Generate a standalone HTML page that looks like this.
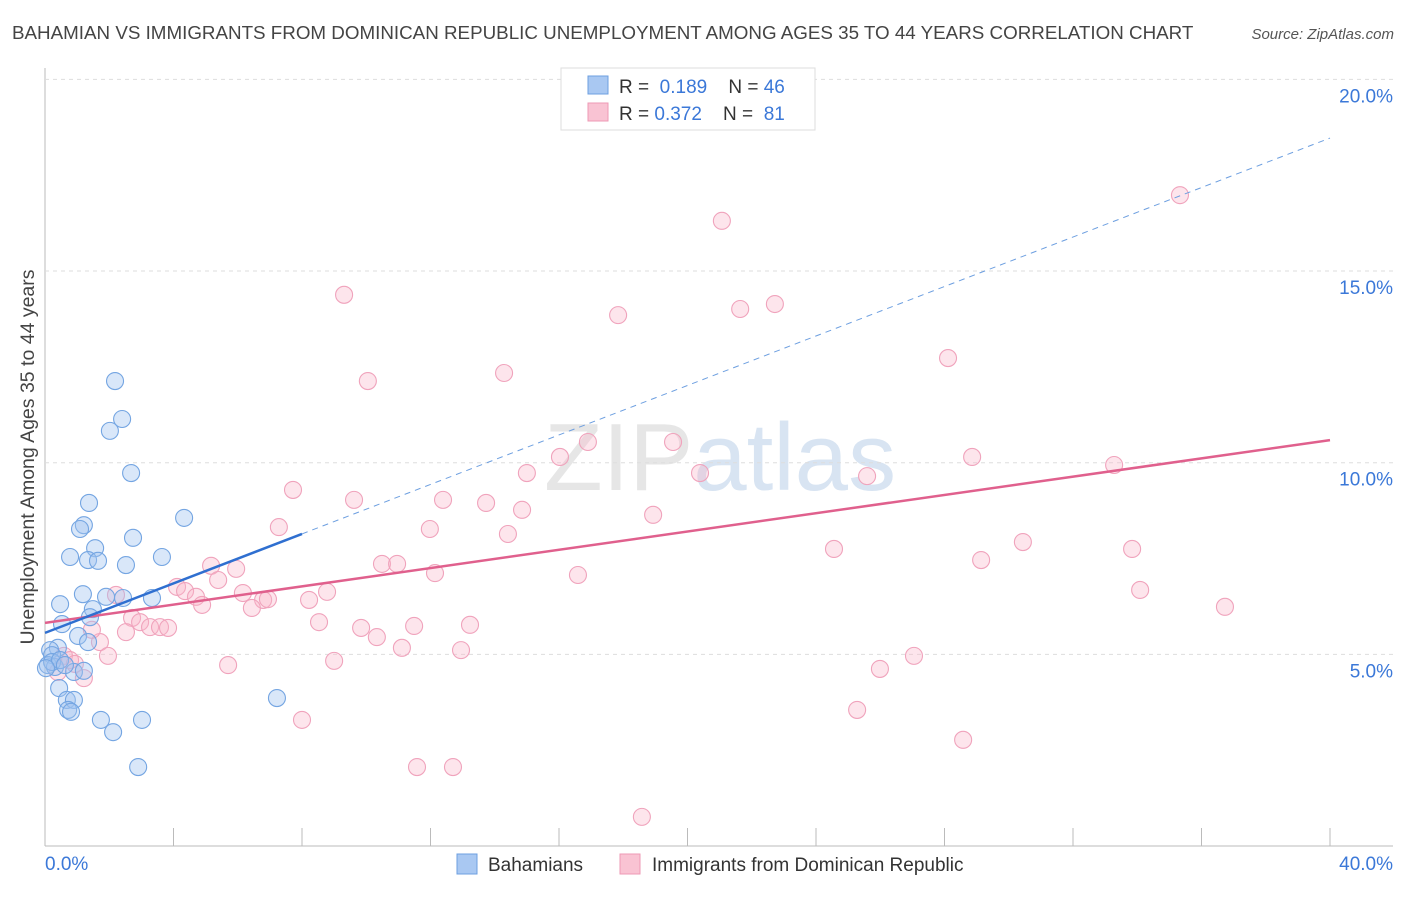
<!DOCTYPE html>
<html><head><meta charset="utf-8"><style>
body{margin:0;background:#fff;font-family:"Liberation Sans",sans-serif;}
svg text{font-family:"Liberation Sans",sans-serif;}
</style></head><body>
<svg id="chart" width="1406" height="892">
<text x="12" y="39" font-size="18.8" fill="#444">BAHAMIAN VS IMMIGRANTS FROM DOMINICAN REPUBLIC UNEMPLOYMENT AMONG AGES 35 TO 44 YEARS CORRELATION CHART</text>
<text x="1394" y="39" font-size="15" fill="#555" text-anchor="end" font-style="italic">Source: ZipAtlas.com</text>
<text x="720" y="490" font-size="96" fill="#e6e6e6" text-anchor="middle" font-family="Liberation Serif">ZIP<tspan fill="#d8e4f2" font-family="Liberation Sans">atlas</tspan></text>
<text transform="translate(34,457) rotate(-90)" font-size="19.5" fill="#444" text-anchor="middle">Unemployment Among Ages 35 to 44 years</text>
<g id="grid"></g><g id="marks"></g>
<g>
<rect x="561" y="68" width="254" height="62" fill="#fff" stroke="#ddd"/>
<rect x="588" y="76" width="20" height="18" fill="#a9c8f2" stroke="#6d9fe0"/>
<rect x="588" y="103" width="20" height="18" fill="#f9c3d3" stroke="#ee9ab5"/>
<text x="619" y="93" font-size="19" fill="#333">R = <tspan fill="#3b78d8">&#160;0.189</tspan>&#160;&#160;&#160; N = <tspan fill="#3b78d8">46</tspan></text>
<text x="619" y="120" font-size="19" fill="#333">R = <tspan fill="#3b78d8">0.372</tspan>&#160;&#160;&#160; N = <tspan fill="#3b78d8">&#160;81</tspan></text>
</g>
<g>
<rect x="457" y="854" width="20" height="20" fill="#a9c8f2" stroke="#6d9fe0"/>
<text x="488" y="871" font-size="19" fill="#333">Bahamians</text>
<rect x="620" y="854" width="20" height="20" fill="#f9c3d3" stroke="#ee9ab5"/>
<text x="652" y="871" font-size="19" fill="#333">Immigrants from Dominican Republic</text>
</g>
</svg>
<script>
const blueX=[2.18,2.40,2.02,2.68,1.37,1.21,1.09,4.33,2.74,1.56,0.78,1.34,1.65,3.64,2.52,0.47,1.18,1.90,2.43,3.33,1.49,1.40,0.53,1.03,1.34,0.40,0.16,0.22,0.09,0.31,0.90,1.21,0.44,0.68,0.90,0.72,0.81,1.74,2.12,3.02,2.90,7.22,0.22,0.47,0.03,0.62];
const blueY=[12.13,11.14,10.83,9.73,8.95,8.37,8.27,8.56,8.04,7.77,7.54,7.46,7.44,7.54,7.33,6.31,6.57,6.50,6.47,6.47,6.18,5.97,5.79,5.48,5.32,5.17,5.11,4.98,4.72,4.67,4.54,4.57,4.12,3.81,3.81,3.55,3.50,3.29,2.97,3.29,2.06,3.86,4.80,4.85,4.64,4.72];
const pinkX=[35.33,21.07,9.31,17.84,21.64,22.72,28.11,10.05,14.29,16.90,19.55,16.03,15.00,20.39,25.59,28.86,33.28,7.72,9.62,12.39,13.73,14.85,7.28,11.98,14.41,18.93,24.56,33.84,30.44,29.14,10.49,10.96,12.14,16.59,5.17,5.95,5.39,4.11,4.36,4.70,4.89,2.21,6.16,6.79,6.94,6.44,8.22,8.78,34.09,36.73,8.53,2.71,2.96,3.27,3.58,3.83,2.52,9.84,11.49,13.23,10.33,11.11,12.95,9.00,5.70,25.99,27.05,1.71,1.46,1.96,0.59,0.78,0.93,1.21,0.40,8.00,25.28,28.58,11.58,12.70,18.58];
const pinkY=[16.98,16.31,14.38,13.85,14.01,14.14,12.73,12.13,12.34,10.54,10.54,10.15,9.73,9.73,9.65,10.15,9.94,9.29,9.03,9.03,8.95,8.77,8.32,8.27,8.14,8.64,7.75,7.75,7.93,7.46,7.36,7.36,7.12,7.07,7.31,7.23,6.94,6.76,6.65,6.50,6.29,6.55,6.60,6.42,6.44,6.21,6.42,6.63,6.68,6.24,5.84,5.95,5.84,5.71,5.71,5.69,5.58,5.69,5.74,5.77,5.45,5.17,5.11,4.83,4.72,4.62,4.96,5.32,5.64,4.96,4.96,4.85,4.75,4.38,4.54,3.29,3.55,2.77,2.06,2.06,0.76];
const yTicks=[5,10,15,20];
const xTickVals=[0,4,8,12,16,20,24,28,32,36,40];
const blueTrend=[5.56,18.47];
const pinkTrend=[5.82,10.59];
const blueSolidEnd=8.0;

const NS="http://www.w3.org/2000/svg";
const sx=v=>45+v/40*1285;
const sy=v=>846-v*38.33;
function mk(tag,attrs,parent){const e=document.createElementNS(NS,tag);for(const k in attrs)e.setAttribute(k,attrs[k]);parent.appendChild(e);return e;}
const grid=document.getElementById('grid'),marks=document.getElementById('marks');
let ax=mk('line',{x1:45,y1:68,x2:45,y2:846,stroke:'#bbb'},grid);


let bx=mk('line',{x1:45,y1:846,x2:1393,y2:846,stroke:'#bbb'},grid);


yTicks.forEach(t=>{
 const g=mk('line',{x1:45,x2:1393,y1:sy(t),y2:sy(t),stroke:'#ddd','stroke-dasharray':'4,4'},grid);
 
 
 const l=mk('text',{x:1393,y:sy(t)+23,'font-size':19,fill:'#3b78d8','text-anchor':'end'},grid);
 l.textContent=t.toFixed(1)+'%';
 
 
});
xTickVals.forEach(t=>{
 const k=mk('line',{x1:sx(t),x2:sx(t),y1:828,y2:846,stroke:'#bbb'},grid);
 
 
});
[[0,'start',45],[40,'end',1393]].forEach(([v,a,x])=>{
 const l=mk('text',{x:x,y:870,'font-size':19,fill:'#3b78d8','text-anchor':a},grid);
 l.textContent=v.toFixed(1)+'%';
 
 
});
pinkX.forEach((x,i)=>{
 const c=mk('circle',{cx:sx(x),cy:sy(pinkY[i]),r:8.5,fill:'rgba(248,180,200,0.35)',stroke:'#f0a3bc','stroke-width':1.1},marks);
 
 
});
blueX.forEach((x,i)=>{
 const c=mk('circle',{cx:sx(x),cy:sy(blueY[i]),r:8.5,fill:'rgba(160,196,240,0.4)',stroke:'#74a5e2','stroke-width':1.1},marks);
 
 
});
const by=x=>blueTrend[0]+(blueTrend[1]-blueTrend[0])*x/40;
let pl=mk('line',{x1:sx(0),y1:sy(pinkTrend[0]),x2:sx(40),y2:sy(pinkTrend[1]),stroke:'#e0608d','stroke-width':2.5},marks);


let bl=mk('line',{x1:sx(0),y1:sy(by(0)),x2:sx(blueSolidEnd),y2:sy(by(blueSolidEnd)),stroke:'#2f6fd0','stroke-width':2.5},marks);


let bd=mk('line',{x1:sx(blueSolidEnd),y1:sy(by(blueSolidEnd)),x2:sx(40),y2:sy(by(40)),stroke:'#6d9fe0','stroke-width':1,'stroke-dasharray':'6,5'},marks);


</script>
</body></html>
